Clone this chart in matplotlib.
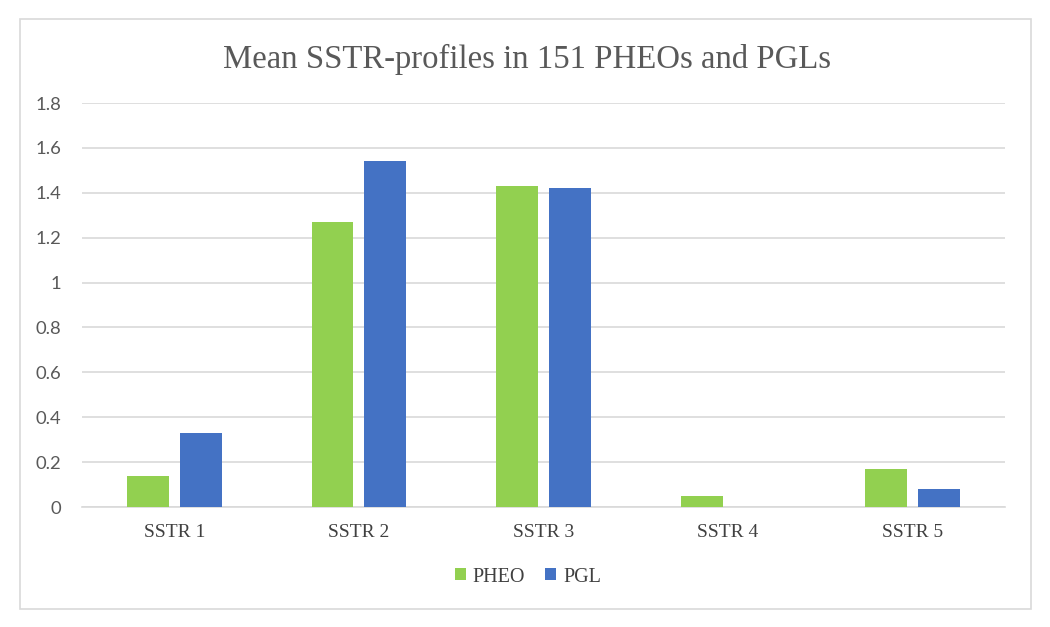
import matplotlib
matplotlib.use("Agg")
import matplotlib.pyplot as plt
from matplotlib.patches import Rectangle
import numpy as np

categories = ["SSTR 1", "SSTR 2", "SSTR 3", "SSTR 4", "SSTR 5"]
pheo = [0.14, 1.27, 1.43, 0.05, 0.17]
pgl = [0.33, 1.54, 1.42, 0.0, 0.08]
yticks = [0, 0.2, 0.4, 0.6, 0.8, 1, 1.2, 1.4, 1.6, 1.8]
ytick_labels = ["0", "0.2", "0.4", "0.6", "0.8", "1", "1.2", "1.4", "1.6", "1.8"]

W, H = 1050, 627
fig = plt.figure(figsize=(W / 100, H / 100), dpi=100)
fig.patch.set_facecolor("white")

# outer border
fig.patches.append(Rectangle((20 / W, 1 - 609 / H), (1031 - 20) / W, (609 - 19) / H,
                             transform=fig.transFigure, fill=False,
                             edgecolor="#d9d9d9", linewidth=1.2))

left, right, top, bottom = 82, 1005, 103, 507
ax = fig.add_axes([left / W, 1 - bottom / H, (right - left) / W, (bottom - top) / H])

x = np.arange(len(categories))
bw = 0.227
off = 0.143
green = "#92d050"
blue = "#4472c4"
ax.bar(x - off, pheo, bw, color=green, label="PHEO", zorder=3)
ax.bar(x + off, pgl, bw, color=blue, label="PGL", zorder=3)

ax.set_xlim(-0.5, len(categories) - 0.5)
ax.set_ylim(0, 1.8)
ax.set_yticks(yticks)
ax.set_yticklabels(ytick_labels)
ax.set_xticks(x)
ax.set_xticklabels(categories, fontfamily="Liberation Serif", fontsize=14, color="#404040")
for lab in ax.get_yticklabels():
    lab.set_fontfamily("Lato")
    lab.set_fontsize(13.3)
    lab.set_color("#595959")
ax.tick_params(axis="both", length=0)
ax.tick_params(axis="y", pad=15)
ax.tick_params(axis="x", pad=12)
ax.grid(axis="y", color="#d9d9d9", linewidth=1.2, zorder=0)
for s in ["top", "right", "left"]:
    ax.spines[s].set_visible(False)
ax.spines["bottom"].set_color("#d9d9d9")
ax.spines["bottom"].set_linewidth(1.2)

fig.text(0.5 * (223 + 831) / W, 1 - 59 / H, "Mean SSTR-profiles in 151 PHEOs and PGLs",
         ha="center", va="center", fontfamily="Liberation Serif", fontsize=23.6, color="#595959")

leg = fig.legend(loc="center", bbox_to_anchor=(528 / W, 1 - 577 / H), ncol=2, frameon=False,
                 prop={"family": "Liberation Serif", "size": 14.5}, handlelength=0.55,
                 handleheight=0.55, handletextpad=0.35, columnspacing=1.0)
for t in leg.get_texts():
    t.set_color("#404040")

fig.savefig("out.png", dpi=100, facecolor="white")
